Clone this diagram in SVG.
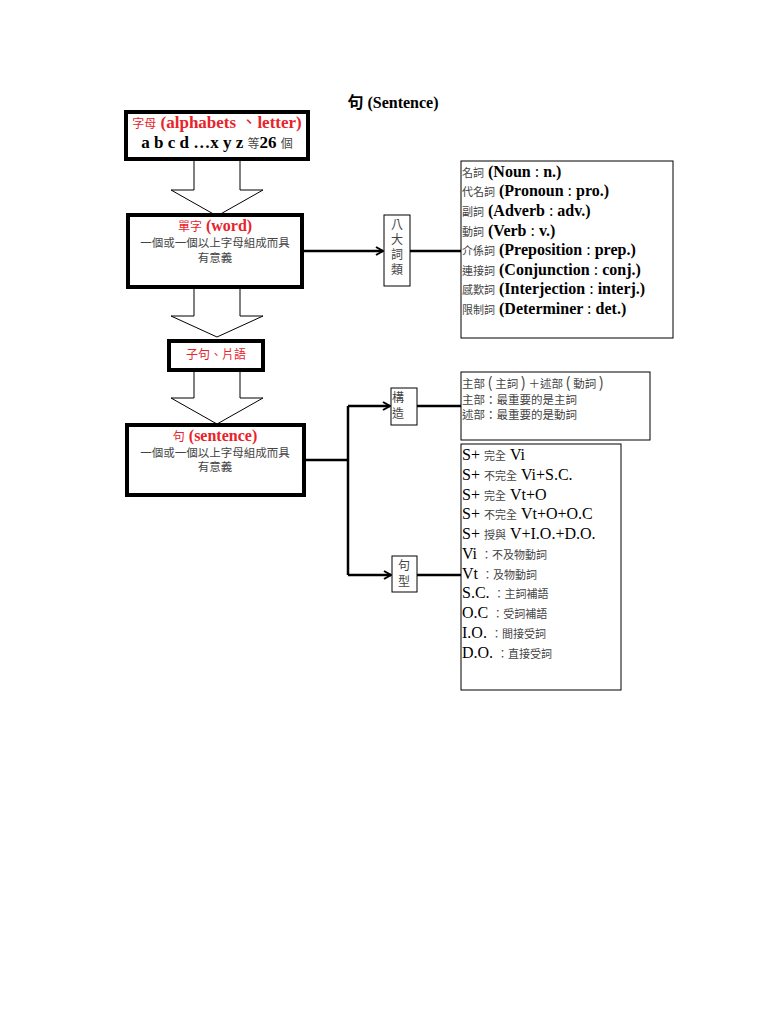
<svg xmlns="http://www.w3.org/2000/svg" width="768" height="1024" viewBox="0 0 768 1024">
<style>
.b{font-family:"Liberation Serif","Noto Sans CJK TC",serif;font-weight:bold;fill:#000}
.r{fill:#e8232b}
.g{font-family:"Noto Sans CJK TC",sans-serif;fill:#444;font-weight:normal}
.c{font-weight:normal}
.s{font-family:"Liberation Serif","Noto Sans CJK TC",serif;fill:#000}
.thick{fill:#fff;stroke:#000;stroke-width:4}
.thin{fill:#fff;stroke:#000;stroke-width:1}
.ln{fill:none;stroke:#000;stroke-width:2.5}
.blk{fill:#fff;stroke:#000;stroke-width:1}
</style>
<defs><marker id="ah" markerWidth="10" markerHeight="10" refX="8" refY="5" orient="auto" markerUnits="userSpaceOnUse"><path d="M1,1 L8,5 L1,9" fill="none" stroke="#000" stroke-width="2"/></marker></defs>
<rect width="768" height="1024" fill="#fff"/>
<text class="b" x="393" y="108" font-size="16" text-anchor="middle">句 (Sentence)</text>
<g id="arrows-block">
<path class="blk" d="M194,160 V190 H171 L217,216 L263,190 H240 V160"/>
<path class="blk" d="M194,288 V316 H171 L217,337 L263,316 H240 V288"/>
<path class="blk" d="M194,371 V398 H171 L217,424 L263,398 H240 V371"/>
</g>
<g id="letter"><rect class="thick" x="126" y="112" width="182" height="47"/>
<text x="217" y="128" text-anchor="middle" font-size="17" class="b"><tspan class="g" font-size="12" style="fill:#e8232b">字母</tspan><tspan class="r"> (alphabets <tspan class="c">、</tspan>letter)</tspan></text>
<text x="217" y="148" text-anchor="middle" font-size="17" class="b">a b c d …x y z <tspan class="g" font-size="12">等</tspan>26 <tspan class="g" font-size="12">個</tspan></text></g>
<g id="word"><rect class="thick" x="128" y="215" width="174" height="72"/>
<text x="215" y="231" text-anchor="middle" font-size="16" class="b"><tspan class="g" font-size="12" style="fill:#e8232b">單字</tspan><tspan class="r"> (word)</tspan></text>
<text x="215" y="247" text-anchor="middle" font-size="11.5" class="g">一個或一個以上字母組成而具</text>
<text x="215" y="262" text-anchor="middle" font-size="11.5" class="g">有意義</text></g>
<g id="clause"><rect class="thick" x="169" y="341" width="94" height="29"/>
<text x="216" y="359" text-anchor="middle" font-size="12" class="g" style="fill:#e8232b">子句、片語</text></g>
<g id="sentence"><rect class="thick" x="127" y="425" width="177" height="70"/>
<text x="215" y="441" text-anchor="middle" font-size="16" class="b"><tspan class="g" font-size="12" style="fill:#e8232b">句</tspan><tspan class="r"> (sentence)</tspan></text>
<text x="215" y="457" text-anchor="middle" font-size="11.5" class="g">一個或一個以上字母組成而具</text>
<text x="215" y="471" text-anchor="middle" font-size="11.5" class="g">有意義</text></g>
<g id="connectors">
<path class="ln" d="M304,251 H383" marker-end="url(#ah)"/>
<path class="ln" d="M410,251 H461"/>
<path class="ln" d="M306,460 H348 M348,406 V575"/>
<path class="ln" d="M348,406 H390" marker-end="url(#ah)"/>
<path class="ln" d="M348,575 H391" marker-end="url(#ah)"/>
<path class="ln" d="M417,406 H461"/>
<path class="ln" d="M417,575 H461"/>
</g>
<g id="eight"><rect class="thin" x="384" y="215" width="26" height="71"/>
<g class="g" font-size="12" text-anchor="middle"><text x="397" y="229">八</text><text x="397" y="244">大</text><text x="397" y="259">詞</text><text x="397" y="274">類</text></g></g>
<g id="pos"><rect class="thin" x="461" y="161" width="212" height="177"/>
<g class="b" font-size="16">
<text x="462" y="177"><tspan class="g" font-size="11">名詞</tspan> (Noun <tspan class="c">:</tspan> n.)</text>
<text x="462" y="196"><tspan class="g" font-size="11">代名詞</tspan> (Pronoun <tspan class="c">:</tspan> pro.)</text>
<text x="462" y="216"><tspan class="g" font-size="11">副詞</tspan> (Adverb <tspan class="c">:</tspan> adv.)</text>
<text x="462" y="236"><tspan class="g" font-size="11">動詞</tspan> (Verb <tspan class="c">:</tspan> v.)</text>
<text x="462" y="255"><tspan class="g" font-size="11">介係詞</tspan> (Preposition <tspan class="c">:</tspan> prep.)</text>
<text x="462" y="275"><tspan class="g" font-size="11">連接詞</tspan> (Conjunction <tspan class="c">:</tspan> conj.)</text>
<text x="462" y="294"><tspan class="g" font-size="11">感歎詞</tspan> (Interjection <tspan class="c">:</tspan> interj.)</text>
<text x="462" y="314"><tspan class="g" font-size="11">限制詞</tspan> (Determiner <tspan class="c">:</tspan> det.)</text>
</g></g>
<g id="struct"><rect class="thin" x="391" y="388" width="26" height="37"/>
<g class="g" font-size="12"><text x="392" y="402">構</text><text x="392" y="418">造</text></g></g>
<g id="subjpred"><rect class="thin" x="461" y="372" width="189" height="68"/>
<g class="g" font-size="11.5"><text x="462" y="388">主部 <tspan font-size="15">(</tspan> 主詞 <tspan font-size="15">)</tspan> ＋述部 <tspan font-size="15">(</tspan> 動詞 <tspan font-size="15">)</tspan></text><text x="462" y="404">主部：最重要的是主詞</text><text x="462" y="419">述部：最重要的是動詞</text></g></g>
<g id="pattern"><rect class="thin" x="392" y="556" width="25" height="36"/>
<g class="g" font-size="12" text-anchor="middle"><text x="404" y="570">句</text><text x="404" y="586">型</text></g></g>
<g id="patterns"><rect class="thin" x="461" y="444" width="160" height="246"/>
<g class="s" font-size="16">
<text x="462" y="460">S+ <tspan class="g" font-size="11">完全</tspan> Vi</text>
<text x="462" y="480">S+ <tspan class="g" font-size="11">不完全</tspan> Vi+S.C.</text>
<text x="462" y="500">S+ <tspan class="g" font-size="11">完全</tspan> Vt+O</text>
<text x="462" y="519">S+ <tspan class="g" font-size="11">不完全</tspan> Vt+O+O.C</text>
<text x="462" y="539">S+ <tspan class="g" font-size="11">授與</tspan> V+I.O.+D.O.</text>
<text x="462" y="559">Vi <tspan class="g" font-size="11">：不及物動詞</tspan></text>
<text x="462" y="579">Vt <tspan class="g" font-size="11">：及物動詞</tspan></text>
<text x="462" y="598">S.C. <tspan class="g" font-size="11">：主詞補語</tspan></text>
<text x="462" y="618">O.C <tspan class="g" font-size="11">：受詞補語</tspan></text>
<text x="462" y="638">I.O. <tspan class="g" font-size="11">：間接受詞</tspan></text>
<text x="462" y="658">D.O. <tspan class="g" font-size="11">：直接受詞</tspan></text>
</g></g>
</svg>
